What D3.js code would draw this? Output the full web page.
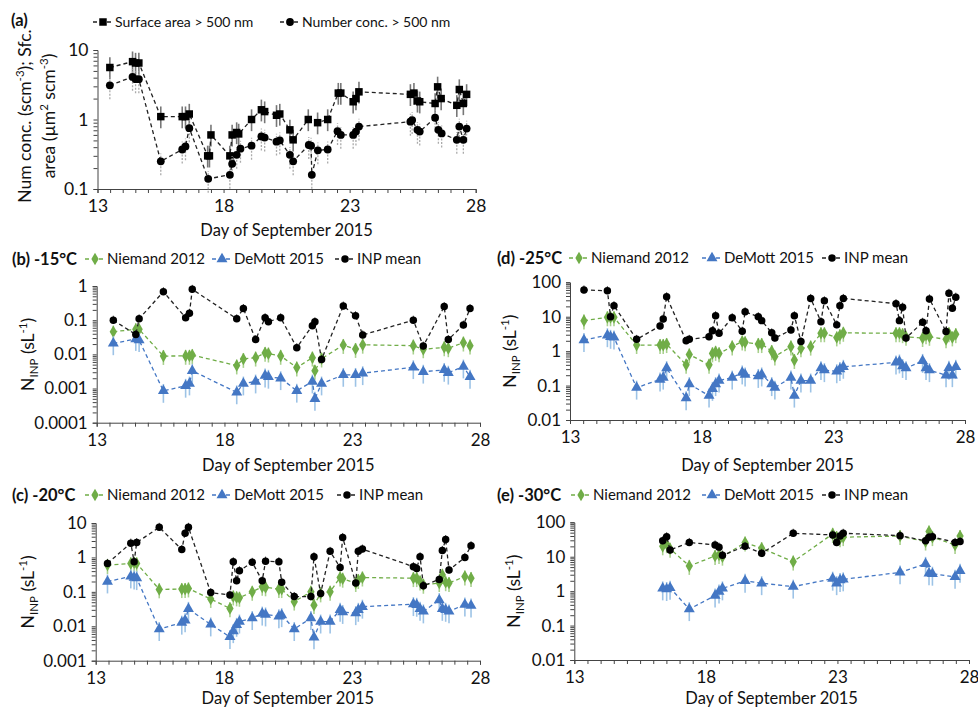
<!DOCTYPE html>
<html>
<head>
<meta charset="utf-8">
<script src="https://cdn.jsdelivr.net/npm/d3@7"></script>
<style>
  body { margin: 0; background: #fff; }
  svg text { font-family: Lato, "Open Sans", "DejaVu Sans", sans-serif; fill: #111; }
</style>
</head>
<body>
<svg id="fig" width="978" height="711"></svg>
<script>
// ---------- shared axis labels ----------
const xTickLabels = ["13", "18", "23", "28"];
const xTitle = "Day of September 2015";

// ---------- (a) aerosol > 500 nm ----------
const sfcDays = [13.49, 14.39, 14.51, 14.64, 15.51, 16.36, 16.49, 16.64, 17.37, 17.44, 17.5, 18.25, 18.34, 18.52, 18.6, 19.11, 19.5, 19.63, 20.1, 20.23, 20.63, 20.76, 21.36, 21.73, 22.13, 22.55, 22.65, 23.14, 23.25, 23.37, 25.41, 25.55, 25.69, 25.78, 26.39, 26.49, 26.63, 27.25, 27.35, 27.51, 27.64];
const sfcArea = [5.6, 6.8, 6.5, 6.5, 1.1, 1.1, 1.1, 1.2, 0.3, 0.3, 0.6, 0.3, 0.6, 0.65, 0.62, 1.0, 1.38, 1.3, 1.15, 1.2, 0.71, 0.51, 1.0, 0.9, 1.0, 2.4, 2.4, 1.8, 2.0, 2.5, 2.3, 2.4, 1.85, 1.8, 1.7, 2.95, 2.0, 1.6, 2.7, 1.7, 2.3];
const numDays = [13.49, 14.39, 14.51, 14.64, 15.51, 16.36, 16.49, 16.64, 17.39, 18.25, 18.34, 18.52, 18.67, 19.11, 19.5, 19.63, 20.1, 20.23, 20.63, 20.76, 21.38, 21.47, 21.5, 21.74, 22.13, 22.52, 22.65, 23.14, 23.25, 23.37, 25.41, 25.48, 25.69, 25.78, 26.39, 26.52, 26.65, 27.25, 27.35, 27.51, 27.64];
const numConc = [3.1, 4.1, 3.8, 3.8, 0.25, 0.37, 0.41, 0.75, 0.14, 0.16, 0.23, 0.31, 0.38, 0.42, 0.57, 0.55, 0.48, 0.5, 0.31, 0.25, 0.43, 0.42, 0.16, 0.36, 0.37, 0.68, 0.6, 0.6, 0.67, 0.79, 0.93, 0.98, 0.71, 0.67, 1.06, 0.71, 0.63, 0.51, 0.79, 0.51, 0.74];
const yTicksA = ["0.1", "1", "10"];

// ---------- (b) -15 °C ----------
const daysB = [13.65, 14.53, 14.66, 15.61, 16.48, 16.63, 16.74, 18.48, 18.74, 19.22, 19.59, 19.72, 20.2, 20.83, 21.44, 21.54, 21.8, 22.65, 23.13, 23.41, 25.39, 25.78, 26.6, 26.76, 27.35, 27.61];
const niemandB = [0.046, 0.054, 0.054, 0.0089, 0.009, 0.009, 0.0095, 0.0047, 0.0073, 0.008, 0.011, 0.0105, 0.009, 0.0041, 0.008, 0.0033, 0.0075, 0.0187, 0.0143, 0.019, 0.018, 0.014, 0.016, 0.015, 0.022, 0.018];
const demottB = [0.021, 0.028, 0.026, 0.00085, 0.0012, 0.0014, 0.0033, 0.00077, 0.0014, 0.0016, 0.0024, 0.0022, 0.002, 0.00086, 0.0016, 0.0005, 0.0014, 0.0025, 0.0025, 0.0028, 0.0042, 0.0031, 0.0035, 0.0029, 0.0044, 0.0022];
const inpB = [0.1, 0.038, 0.11, 0.68, 0.118, 0.16, 0.8, 0.11, 0.22, 0.027, 0.118, 0.09, 0.118, 0.0157, 0.069, 0.09, 0.0071, 0.26, 0.135, 0.037, 0.1, 0.0175, 0.25, 0.027, 0.072, 0.22];
const yTicksB = ["0.0001", "0.001", "0.01", "0.1", "1"];

// ---------- (c) -20 °C ----------
const daysC = [13.46, 14.37, 14.5, 14.6, 15.48, 16.36, 16.49, 16.62, 17.49, 18.24, 18.37, 18.5, 18.61, 19.11, 19.5, 19.63, 20.15, 20.26, 20.75, 21.4, 21.52, 21.78, 22.15, 22.54, 22.64, 23.15, 23.25, 23.41, 25.4, 25.53, 25.66, 25.79, 26.41, 26.53, 26.66, 26.79, 27.41, 27.65];
const niemandC = [0.6, 0.67, 0.7, 0.67, 0.118, 0.12, 0.12, 0.125, 0.062, 0.033, 0.073, 0.069, 0.067, 0.1, 0.14, 0.135, 0.12, 0.12, 0.052, 0.1, 0.041, 0.09, 0.1, 0.26, 0.24, 0.18, 0.22, 0.26, 0.25, 0.25, 0.2, 0.16, 0.18, 0.31, 0.19, 0.18, 0.28, 0.25];
const demottC = [0.2, 0.28, 0.26, 0.25, 0.0083, 0.0127, 0.015, 0.032, 0.0113, 0.0049, 0.0072, 0.011, 0.0137, 0.0173, 0.0233, 0.022, 0.0195, 0.021, 0.0083, 0.0173, 0.0048, 0.0137, 0.0137, 0.03, 0.026, 0.024, 0.03, 0.037, 0.044, 0.042, 0.032, 0.027, 0.058, 0.032, 0.03, 0.027, 0.043, 0.04];
const inpC = [0.67, 2.6, 0.75, 2.7, 7.5, 1.7, 5.0, 7.5, 0.095, 0.081, 0.75, 0.21, 0.41, 0.72, 0.21, 0.78, 0.75, 0.19, 0.073, 0.073, 1.05, 0.09, 1.5, 0.51, 3.8, 0.18, 1.5, 1.75, 0.54, 0.48, 1.05, 0.15, 0.23, 1.6, 3.3, 0.43, 1.0, 2.2];
const yTicksC = ["0.001", "0.01", "0.1", "1", "10"];

// ---------- (d) -25 °C ----------
const daysD = [13.53, 14.42, 14.54, 14.67, 15.53, 16.42, 16.54, 16.67, 17.41, 17.53, 18.28, 18.41, 18.53, 18.66, 19.16, 19.54, 19.65, 20.15, 20.28, 20.66, 20.78, 21.39, 21.52, 21.77, 22.14, 22.53, 22.66, 23.13, 23.25, 23.38, 25.38, 25.51, 25.63, 25.76, 26.39, 26.52, 26.65, 27.28, 27.39, 27.52, 27.65];
const niemandD = [7.7, 9.6, 9.6, 9.6, 1.5, 1.5, 1.5, 1.6, 0.4, 0.8, 0.4, 0.86, 0.95, 0.86, 1.36, 1.9, 1.8, 1.6, 1.6, 1.0, 0.7, 1.35, 0.55, 1.2, 1.35, 3.3, 3.3, 2.5, 2.9, 3.4, 3.3, 3.3, 3.1, 2.6, 2.4, 2.9, 2.6, 2.2, 3.3, 2.5, 3.1];
const demottD = [2.1, 2.9, 2.6, 2.5, 0.087, 0.15, 0.17, 0.32, 0.043, 0.11, 0.051, 0.08, 0.11, 0.14, 0.17, 0.24, 0.21, 0.19, 0.21, 0.11, 0.087, 0.17, 0.051, 0.14, 0.14, 0.32, 0.28, 0.26, 0.3, 0.35, 0.47, 0.5, 0.37, 0.32, 0.52, 0.32, 0.28, 0.2, 0.33, 0.2, 0.35];
const inpD = [60, 57, 10, 21, 2.2, 5.4, 8.6, 38, 2.0, 2.2, 2.6, 3.9, 10.7, 3.3, 9.4, 3.8, 14, 10, 7.7, 3.4, 2.4, 4.1, 10.7, 1.9, 34, 7.2, 29, 5.8, 21, 34, 24, 7.7, 19, 2.4, 6.9, 3.9, 33, 3.7, 48, 17.6, 37];
const yTicksD = ["0.01", "0.1", "1", "10", "100"];

// ---------- (e) -30 °C ----------
const daysE = [16.36, 16.51, 16.64, 17.37, 18.35, 18.5, 18.63, 19.49, 20.12, 21.32, 22.82, 22.97, 23.1, 23.22, 25.38, 26.35, 26.48, 26.61, 27.47, 27.66];
const niemandE = [20, 23, 17, 5.4, 10.5, 11.2, 10, 25.7, 17.6, 7.2, 46, 37, 34, 37, 40, 27.5, 54, 37, 22, 40];
const demottE = [1.2, 1.15, 1.25, 0.3, 0.74, 0.97, 1.2, 2.0, 1.7, 1.35, 2.3, 1.7, 2.1, 2.2, 3.5, 6.2, 3.3, 3.2, 2.6, 3.9];
const inpE = [29, 38, 15.7, 26, 22, 19, 11, 20, 12.6, 48, 43, 26, 40, 48, 41, 29, 37, 38, 26, 27.5];
const yTicksE = ["0.01", "0.1", "1", "10", "100"];

// ---------- series names ----------
const seriesNames = ["Niemand 2012", "DeMott 2015", "INP mean"];
const aerosolNames = ["Surface area > 500 nm", "Number conc. > 500 nm"];

// ---------- styles ----------
const GREEN = "#70AD47", BLUE = "#4477C4", BLACK = "#000";
const sym = (type, size) => d3.symbol().type(type).size(size)();
const styles = {
  niemand: { color: GREEN, line: GREEN, symbol: sym(d3.symbolDiamond, 46), errColor: "#A9D18E", errLo: 0.55, errHi: 1.5, errW: 1.6 },
  demott:  { color: BLUE,  line: BLUE,  symbol: sym(d3.symbolTriangle, 52), errColor: "#9DC3E6", errLo: 0.45, errHi: 1.6, errW: 1.6 },
  inp:     { color: BLACK, line: "#222", symbol: sym(d3.symbolCircle, 44), errColor: "#222", errLo: 0.8, errHi: 1.35, errW: 0.9 },
  sfc:     { color: BLACK, line: "#222", symbol: sym(d3.symbolSquare, 56), errColor: "#777", errLo: 0.68, errHi: 1.4, errW: 1.6 },
  num:     { color: BLACK, line: "#222", symbol: sym(d3.symbolCircle, 48), errColor: "#aaa", errLo: 0.63, errHi: 1.3, errW: 1.3, errDash: "2,1.5" }
};

const svg = d3.select("#fig");

function logTickValues(lo, hi) {
  const vals = [];
  for (let e = Math.round(Math.log10(lo)); e < Math.round(Math.log10(hi)); e++) {
    for (let m = 1; m <= 9; m++) vals.push(m * Math.pow(10, e));
  }
  vals.push(hi);
  return vals;
}

function drawFrame(p) {
  const x = d3.scaleLinear().domain([13, 28]).range([p.left, p.right]);
  const yLo = +p.yTicks[0], yHi = +p.yTicks[p.yTicks.length - 1];
  const y = d3.scaleLog().domain([yLo, yHi]).range([p.bottom, p.top]);
  const g = svg.append("g");

  // x axis with half-day minor ticks
  const xAxis = d3.axisBottom(x)
    .tickValues(d3.range(13, 28.001, 0.5))
    .tickSizeOuter(0).tickSize(4).tickPadding(p.xPad)
    .tickFormat(d => xTickLabels.includes(String(d)) ? String(d) : "");
  const gx = g.append("g").attr("transform", `translate(0,${p.bottom})`).call(xAxis);
  gx.attr("font-family", null).attr("font-size", null);
  gx.selectAll("text").style("font-size", p.tickFont + "px").attr("fill", "#111");
  gx.selectAll("line").attr("stroke", "#444");
  gx.select(".domain").attr("stroke", "#444");

  // log y axis with minor ticks
  const labelFor = v => {
    const hit = p.yTicks.find(t => Math.abs(Math.log10(+t) - Math.log10(v)) < 1e-6);
    return hit || "";
  };
  const yAxis = d3.axisLeft(y)
    .tickValues(logTickValues(yLo, yHi))
    .tickSizeOuter(0).tickSize(4).tickPadding(5)
    .tickFormat(labelFor);
  const gy = g.append("g").attr("transform", `translate(${p.left},0)`).call(yAxis);
  gy.attr("font-family", null).attr("font-size", null);
  gy.selectAll("text").style("font-size", p.tickFont + "px").attr("fill", "#111");
  gy.selectAll("line").attr("stroke", "#444");
  gy.select(".domain").attr("stroke", "#444");

  // x title
  g.append("text").attr("x", (p.left + p.right) / 2).attr("y", p.xTitleY)
    .attr("text-anchor", "middle").style("font-size", "16.5px").text(xTitle);

  return { g, x, y };
}

function drawSeries(f, days, vals, st) {
  const { g, x, y } = f;
  const pts = days.map((d, i) => ({ d, v: vals[i] })).filter(q => q.v != null);
  const s = g.append("g");
  s.selectAll(null).data(pts).join("line")
    .attr("x1", q => x(q.d)).attr("x2", q => x(q.d))
    .attr("y1", q => y(q.v * st.errLo)).attr("y2", q => y(q.v * st.errHi))
    .attr("stroke", st.errColor).attr("stroke-width", st.errW)
    .attr("stroke-dasharray", st.errDash || null);
  s.append("path").datum(pts)
    .attr("d", d3.line().x(q => x(q.d)).y(q => y(q.v)))
    .attr("fill", "none").attr("stroke", st.line).attr("stroke-width", 1.3)
    .attr("stroke-dasharray", "4,3");
  s.selectAll(null).data(pts).join("path")
    .attr("transform", q => `translate(${x(q.d)},${y(q.v)})`)
    .attr("d", st.symbol).attr("fill", st.color);
}

function legendItem(x0, yc, st, label, textColor, fontSize) {
  const g = svg.append("g");
  g.append("line").attr("x1", x0).attr("x2", x0 + 20).attr("y1", yc).attr("y2", yc)
    .attr("stroke", st.line).attr("stroke-width", 1.3).attr("stroke-dasharray", "4,3");
  g.append("path").attr("transform", `translate(${x0 + 10},${yc})`).attr("d", st.symbol).attr("fill", st.color);
  g.append("text").attr("x", x0 + 22).attr("y", yc + fontSize * 0.36)
    .style("font-size", fontSize + "px").attr("fill", textColor).text(label);
}

function panelTitle(x, yc, label) {
  svg.append("text").attr("x", x).attr("y", yc + 6).style("font-size", "16.5px")
    .style("font-weight", "bold").text(label);
}

// rotated N_INP (sL-1) label
function ninpLabel(cx, cy) {
  const t = svg.append("text").attr("transform", `translate(${cx},${cy}) rotate(-90)`)
    .attr("text-anchor", "middle").style("font-size", "17.5px");
  t.append("tspan").text("N");
  t.append("tspan").attr("dy", 4).style("font-size", "11.5px").text("INP");
  t.append("tspan").attr("dy", -4).text(" (sL");
  t.append("tspan").attr("dy", -7).style("font-size", "11.5px").text("-1");
  t.append("tspan").attr("dy", 7).text(")");
}

function inpPanel(p, days, nie, dem, inp) {
  const f = drawFrame(p);
  drawSeries(f, days, nie, styles.niemand);
  drawSeries(f, days, dem, styles.demott);
  drawSeries(f, days, inp, styles.inp);
  panelTitle(p.titleX, p.legendY, p.title);
  legendItem(p.legX[0], p.legendY, styles.niemand, seriesNames[0], GREEN, 15);
  legendItem(p.legX[1], p.legendY, styles.demott, seriesNames[1], BLUE, 15);
  legendItem(p.legX[2], p.legendY, styles.inp, seriesNames[2], "#111", 15);
  ninpLabel(p.yLabelX, (p.top + p.bottom) / 2);
}

// ---------- panel (a) ----------
{
  const p = { left: 97.5, right: 475.7, top: 50, bottom: 189, yTicks: yTicksA, tickFont: 17.5, xPad: 7, xTitleY: 236 };
  const f = drawFrame(p);
  drawSeries(f, sfcDays, sfcArea, styles.sfc);
  drawSeries(f, numDays, numConc, styles.num);
  panelTitle(11, 20, "(a)");
  legendItem(93, 22, styles.sfc, aerosolNames[0], "#111", 14);
  legendItem(280, 22, styles.num, aerosolNames[1], "#111", 14);
  const t = svg.append("text").attr("transform", `translate(31,116) rotate(-90)`)
    .attr("text-anchor", "middle").style("font-size", "17.5px");
  t.append("tspan").text("Num conc. (scm");
  t.append("tspan").attr("dy", -7).style("font-size", "11.5px").text("-3");
  t.append("tspan").attr("dy", 7).text("); Sfc.");
  const t2 = svg.append("text").attr("transform", `translate(55,116) rotate(-90)`)
    .attr("text-anchor", "middle").style("font-size", "17.5px");
  t2.append("tspan").text("area (µm");
  t2.append("tspan").attr("dy", -7).style("font-size", "11.5px").text("2");
  t2.append("tspan").attr("dy", 7).text(" scm");
  t2.append("tspan").attr("dy", -7).style("font-size", "11.5px").text("-3");
  t2.append("tspan").attr("dy", 7).text(")");
}

// ---------- panels (b)–(e) ----------
inpPanel({ left: 96.7, right: 480, top: 286, bottom: 422.7, yTicks: yTicksB, tickFont: 17, xPad: 7, xTitleY: 471,
  title: "(b) -15°C", titleX: 12, legendY: 259, legX: [85, 212, 335], yLabelX: 34 }, daysB, niemandB, demottB, inpB);

inpPanel({ left: 570, right: 965, top: 282.3, bottom: 420, yTicks: yTicksD, tickFont: 17, xPad: 7, xTitleY: 471,
  title: "(d) -25°C", titleX: 497, legendY: 258, legX: [569, 702, 822], yLabelX: 516 }, daysD, niemandD, demottD, inpD);

inpPanel({ left: 95.7, right: 480, top: 523, bottom: 660.7, yTicks: yTicksC, tickFont: 17, xPad: 7, xTitleY: 704,
  title: "(c) -20°C", titleX: 12, legendY: 495, legX: [85, 212, 337], yLabelX: 34 }, daysC, niemandC, demottC, inpC);

inpPanel({ left: 574.3, right: 969, top: 522.3, bottom: 660, yTicks: yTicksE, tickFont: 17, xPad: 7, xTitleY: 704,
  title: "(e) -30°C", titleX: 497, legendY: 495, legX: [571, 702, 822], yLabelX: 520 }, daysE, niemandE, demottE, inpE);
</script>
</body>
</html>
